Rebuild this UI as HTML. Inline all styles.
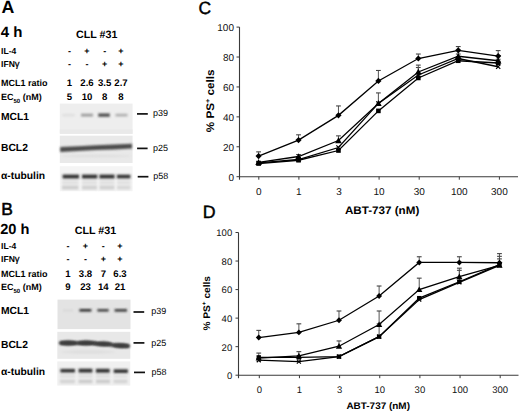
<!DOCTYPE html>
<html><head><meta charset="utf-8"><style>
html,body{margin:0;padding:0;background:#fff;}
body{width:520px;height:411px;overflow:hidden;}
svg{display:block;font-family:"Liberation Sans", sans-serif;text-rendering:geometricPrecision;}
</style></head><body>
<svg width="520" height="411" viewBox="0 0 520 411">
<defs>
<filter id="bl" filterUnits="userSpaceOnUse" x="0" y="0" width="520" height="411"><feGaussianBlur stdDeviation="0.7"/></filter>
<filter id="b1" filterUnits="userSpaceOnUse" x="0" y="0" width="520" height="411"><feGaussianBlur stdDeviation="0.8"/></filter>
<filter id="b0" filterUnits="userSpaceOnUse" x="0" y="0" width="520" height="411"><feGaussianBlur stdDeviation="0.5"/></filter>
<filter id="b2" filterUnits="userSpaceOnUse" x="0" y="0" width="520" height="411"><feGaussianBlur stdDeviation="1.5"/></filter>
</defs>
<rect width="520" height="411" fill="#fff"/>
<text x="1.60" y="12.70" font-size="17.8" font-weight="bold" text-anchor="start" fill="#000" >A</text>
<text x="0.80" y="36.60" font-size="15" font-weight="bold" text-anchor="start" fill="#000" >4 h</text>
<text x="1.20" y="214.90" font-size="17.4" font-weight="normal" text-anchor="start" fill="#000" stroke="#000" stroke-width="0.55">B</text>
<text x="0.20" y="234.00" font-size="14.6" font-weight="bold" text-anchor="start" fill="#000" >20 h</text>
<text x="198.40" y="14.30" font-size="17.5" font-weight="normal" text-anchor="start" fill="#000" stroke="#000" stroke-width="0.45">C</text>
<text x="202.70" y="217.50" font-size="17.8" font-weight="normal" text-anchor="start" fill="#000" stroke="#000" stroke-width="0.45">D</text>
<text x="76.00" y="38.20" font-size="10.7" font-weight="bold" text-anchor="start" fill="#000" >CLL #31</text>
<text x="1.00" y="53.90" font-size="8.6" font-weight="bold" text-anchor="start" fill="#000" >IL-4</text>
<text x="1" y="67.30" font-size="8.6" font-weight="bold">IFN<tspan font-weight="normal" font-size="9.6" stroke="#000" stroke-width="0.25">&#947;</tspan></text>
<text x="1.00" y="85.60" font-size="9" font-weight="bold" text-anchor="start" fill="#000" >MCL1 ratio</text>
<text x="1" y="100.20" font-size="9" font-weight="bold">EC<tspan font-size="6" dy="2.6">50</tspan><tspan dy="-2.6"> (nM)</tspan></text>
<text x="69.50" y="53.90" font-size="9" font-weight="bold" text-anchor="middle" fill="#000" >-</text>
<text x="69.50" y="67.30" font-size="9" font-weight="bold" text-anchor="middle" fill="#000" >-</text>
<text x="69.50" y="85.60" font-size="9.6" font-weight="bold" text-anchor="middle" fill="#000" >1</text>
<text x="69.50" y="100.20" font-size="9.6" font-weight="bold" text-anchor="middle" fill="#000" >5</text>
<text x="87.00" y="53.90" font-size="9" font-weight="bold" text-anchor="middle" fill="#000" >+</text>
<text x="87.00" y="67.30" font-size="9" font-weight="bold" text-anchor="middle" fill="#000" >-</text>
<text x="87.00" y="85.60" font-size="9.6" font-weight="bold" text-anchor="middle" fill="#000" >2.6</text>
<text x="87.00" y="100.20" font-size="9.6" font-weight="bold" text-anchor="middle" fill="#000" >10</text>
<text x="104.70" y="53.90" font-size="9" font-weight="bold" text-anchor="middle" fill="#000" >-</text>
<text x="104.70" y="67.30" font-size="9" font-weight="bold" text-anchor="middle" fill="#000" >+</text>
<text x="104.70" y="85.60" font-size="9.6" font-weight="bold" text-anchor="middle" fill="#000" >3.5</text>
<text x="104.70" y="100.20" font-size="9.6" font-weight="bold" text-anchor="middle" fill="#000" >8</text>
<text x="121.00" y="53.90" font-size="9" font-weight="bold" text-anchor="middle" fill="#000" >+</text>
<text x="121.00" y="67.30" font-size="9" font-weight="bold" text-anchor="middle" fill="#000" >+</text>
<text x="121.00" y="85.60" font-size="9.6" font-weight="bold" text-anchor="middle" fill="#000" >2.7</text>
<text x="121.00" y="100.20" font-size="9.6" font-weight="bold" text-anchor="middle" fill="#000" >8</text>
<text x="74.80" y="234.30" font-size="10.7" font-weight="bold" text-anchor="start" fill="#000" >CLL #31</text>
<text x="1.00" y="249.30" font-size="8.6" font-weight="bold" text-anchor="start" fill="#000" >IL-4</text>
<text x="1" y="262.30" font-size="8.6" font-weight="bold">IFN<tspan font-weight="normal" font-size="9.6" stroke="#000" stroke-width="0.25">&#947;</tspan></text>
<text x="1.00" y="277.30" font-size="9" font-weight="bold" text-anchor="start" fill="#000" >MCL1 ratio</text>
<text x="1" y="290.40" font-size="9" font-weight="bold">EC<tspan font-size="6" dy="2.6">50</tspan><tspan dy="-2.6"> (nM)</tspan></text>
<text x="68.00" y="249.30" font-size="9" font-weight="bold" text-anchor="middle" fill="#000" >-</text>
<text x="68.00" y="262.30" font-size="9" font-weight="bold" text-anchor="middle" fill="#000" >-</text>
<text x="68.00" y="277.30" font-size="9.6" font-weight="bold" text-anchor="middle" fill="#000" >1</text>
<text x="68.00" y="290.40" font-size="9.6" font-weight="bold" text-anchor="middle" fill="#000" >9</text>
<text x="85.50" y="249.30" font-size="9" font-weight="bold" text-anchor="middle" fill="#000" >+</text>
<text x="85.50" y="262.30" font-size="9" font-weight="bold" text-anchor="middle" fill="#000" >-</text>
<text x="85.50" y="277.30" font-size="9.6" font-weight="bold" text-anchor="middle" fill="#000" >3.8</text>
<text x="85.50" y="290.40" font-size="9.6" font-weight="bold" text-anchor="middle" fill="#000" >23</text>
<text x="103.30" y="249.30" font-size="9" font-weight="bold" text-anchor="middle" fill="#000" >-</text>
<text x="103.30" y="262.30" font-size="9" font-weight="bold" text-anchor="middle" fill="#000" >+</text>
<text x="103.30" y="277.30" font-size="9.6" font-weight="bold" text-anchor="middle" fill="#000" >7</text>
<text x="103.30" y="290.40" font-size="9.6" font-weight="bold" text-anchor="middle" fill="#000" >14</text>
<text x="120.00" y="249.30" font-size="9" font-weight="bold" text-anchor="middle" fill="#000" >+</text>
<text x="120.00" y="262.30" font-size="9" font-weight="bold" text-anchor="middle" fill="#000" >+</text>
<text x="120.00" y="277.30" font-size="9.6" font-weight="bold" text-anchor="middle" fill="#000" >6.3</text>
<text x="120.00" y="290.40" font-size="9.6" font-weight="bold" text-anchor="middle" fill="#000" >21</text>
<text x="1.00" y="120.10" font-size="10.3" font-weight="bold" text-anchor="start" fill="#000" >MCL1</text>
<rect x="137.0" y="113.05" width="10.800000000000011" height="1.7" fill="#111"/>
<text x="152.9" y="115.6" font-size="9" textLength="15" lengthAdjust="spacingAndGlyphs">p39</text>
<text x="1.00" y="151.30" font-size="10.3" font-weight="bold" text-anchor="start" fill="#000" >BCL2</text>
<rect x="137.1" y="147.55" width="10.5" height="1.7" fill="#111"/>
<text x="153.0" y="151.0" font-size="9" textLength="15" lengthAdjust="spacingAndGlyphs">p25</text>
<text x="1.00" y="178.80" font-size="10.3" font-weight="bold" text-anchor="start" fill="#000" >&#945;-tubulin</text>
<rect x="137.7" y="175.85" width="10.700000000000017" height="1.7" fill="#111"/>
<text x="153.2" y="179.0" font-size="9" textLength="15" lengthAdjust="spacingAndGlyphs">p58</text>
<text x="1.00" y="313.70" font-size="10.3" font-weight="bold" text-anchor="start" fill="#000" >MCL1</text>
<rect x="133.5" y="311.15" width="10.699999999999989" height="1.7" fill="#111"/>
<text x="151.2" y="313.8" font-size="9" textLength="15" lengthAdjust="spacingAndGlyphs">p39</text>
<text x="1.00" y="347.70" font-size="10.3" font-weight="bold" text-anchor="start" fill="#000" >BCL2</text>
<rect x="133.5" y="342.05" width="10.900000000000006" height="1.7" fill="#111"/>
<text x="151.2" y="345.5" font-size="9" textLength="15" lengthAdjust="spacingAndGlyphs">p25</text>
<text x="1.00" y="375.30" font-size="10.3" font-weight="bold" text-anchor="start" fill="#000" >&#945;-tubulin</text>
<rect x="134.0" y="371.55" width="11.0" height="1.7" fill="#111"/>
<text x="151.4" y="374.5" font-size="9" textLength="15" lengthAdjust="spacingAndGlyphs">p58</text>
<rect x="59.8" y="103.6" width="72.8" height="30.2" fill="#eeeeee"/>
<rect x="59.8" y="129.5" width="72.8" height="4.3" fill="#e9e9e9" fill-opacity="1" filter="url(#b0)"/>
<rect x="62.4" y="114.0" width="12.2" height="2.4" fill="#d4d4d4" fill-opacity="0.6" filter="url(#b1)"/>
<rect x="81.0" y="113.7" width="12.0" height="2.8" fill="#959595" fill-opacity="0.9" filter="url(#b1)"/>
<rect x="98.3" y="113.4" width="11.5" height="3.4" fill="#4a4a4a" fill-opacity="0.95" filter="url(#b1)"/>
<rect x="115.5" y="113.8" width="12.0" height="2.6" fill="#a5a5a5" fill-opacity="0.9" filter="url(#b1)"/>
<rect x="59.8" y="135.7" width="72.8" height="27.3" fill="#e9e9e9"/>
<polygon points="60.2,147.0 78,146.2 96,145.2 114,144.6 132,143.8 132,148.6 114,149.4 96,150.0 78,151.0 60.2,152.0" fill="#4c4c4c" fill-opacity="1" filter="url(#b1)"/>
<ellipse cx="96" cy="156.0" rx="35.0" ry="1.2" fill="#d8d8d8" fill-opacity="0.7" filter="url(#b1)"/>
<rect x="59.8" y="166.2" width="72.8" height="25" fill="#f4f4f4"/>
<rect x="62" y="180.5" width="16.5" height="4" fill="#dcdcdc" fill-opacity="0.8" filter="url(#b1)"/>
<rect x="82" y="180.5" width="15" height="4" fill="#dcdcdc" fill-opacity="0.8" filter="url(#b1)"/>
<rect x="99.5" y="180.5" width="15" height="4" fill="#dcdcdc" fill-opacity="0.8" filter="url(#b1)"/>
<rect x="117" y="180.5" width="13.5" height="4" fill="#dcdcdc" fill-opacity="0.8" filter="url(#b1)"/>
<rect x="62" y="185.5" width="16.5" height="4" fill="#c4c4c4" fill-opacity="0.8" filter="url(#b1)"/>
<rect x="82" y="185.5" width="15" height="4" fill="#c8c8c8" fill-opacity="0.8" filter="url(#b1)"/>
<rect x="99.5" y="185.5" width="15" height="4" fill="#c8c8c8" fill-opacity="0.8" filter="url(#b1)"/>
<rect x="117" y="185.5" width="13.5" height="4" fill="#d0d0d0" fill-opacity="0.8" filter="url(#b1)"/>
<rect x="62.6" y="174.6" width="16.5" height="3.9" fill="#333" fill-opacity="1" filter="url(#b1)"/>
<rect x="82.0" y="174.6" width="15.3" height="3.9" fill="#333" fill-opacity="1" filter="url(#b1)"/>
<rect x="99.4" y="174.6" width="15.2" height="3.9" fill="#333" fill-opacity="1" filter="url(#b1)"/>
<rect x="116.9" y="174.7" width="13.5" height="3.7" fill="#333" fill-opacity="1" filter="url(#b1)"/>
<rect x="57.5" y="299.6" width="73.0" height="29.5" fill="#e3e3e3"/>
<rect x="63" y="309.6" width="10" height="1.6" fill="#cccccc" fill-opacity="0.6" filter="url(#b1)"/>
<rect x="79.4" y="309.0" width="12.0" height="2.6" fill="#2e2e2e" fill-opacity="1" filter="url(#b1)"/>
<rect x="97.4" y="309.1" width="11.2" height="2.4" fill="#333" fill-opacity="1" filter="url(#b1)"/>
<rect x="114.6" y="309.1" width="12.4" height="2.5" fill="#303030" fill-opacity="1" filter="url(#b1)"/>
<rect x="57.3" y="331.8" width="73.0" height="27.0" fill="#e8e8e8"/>
<line x1="61" y1="343.0" x2="95" y2="343.2" stroke="#3c3c3c" stroke-opacity="1" stroke-width="3.4" stroke-linecap="round" filter="url(#b1)"/>
<line x1="95" y1="343.4" x2="128" y2="346.2" stroke="#3c3c3c" stroke-opacity="1" stroke-width="3.4" stroke-linecap="round" filter="url(#b1)"/>
<ellipse cx="68.2" cy="343.0" rx="9.0" ry="2.4" fill="#3c3c3c" fill-opacity="1" filter="url(#b1)"/>
<ellipse cx="86.0" cy="342.9" rx="8.75" ry="2.4" fill="#3c3c3c" fill-opacity="1" filter="url(#b1)"/>
<ellipse cx="103.5" cy="343.9" rx="8.75" ry="2.3" fill="#3c3c3c" fill-opacity="1" filter="url(#b1)"/>
<ellipse cx="121.0" cy="345.6" rx="8.75" ry="2.4" fill="#3c3c3c" fill-opacity="1" filter="url(#b1)"/>
<ellipse cx="88" cy="352" rx="28.0" ry="1.5" fill="#d8d8d8" fill-opacity="0.7" filter="url(#b1)"/>
<rect x="57.3" y="361.4" width="73.0" height="24.2" fill="#f0f0f0"/>
<rect x="60" y="374.8" width="15" height="2.6" fill="#dadada" fill-opacity="0.8" filter="url(#b1)"/>
<rect x="78.5" y="374.8" width="14" height="2.6" fill="#d6d6d6" fill-opacity="0.8" filter="url(#b1)"/>
<rect x="96" y="374.8" width="14" height="2.6" fill="#d6d6d6" fill-opacity="0.8" filter="url(#b1)"/>
<rect x="113.5" y="374.8" width="14" height="2.6" fill="#dadada" fill-opacity="0.8" filter="url(#b1)"/>
<rect x="60" y="379.6" width="15" height="3.6" fill="#cccccc" fill-opacity="0.8" filter="url(#b1)"/>
<rect x="78.5" y="379.6" width="14" height="3.6" fill="#c2c2c2" fill-opacity="0.8" filter="url(#b1)"/>
<rect x="96" y="379.6" width="14" height="3.6" fill="#c2c2c2" fill-opacity="0.8" filter="url(#b1)"/>
<rect x="113.5" y="379.6" width="14" height="3.6" fill="#cccccc" fill-opacity="0.8" filter="url(#b1)"/>
<rect x="60.4" y="368.9" width="14.6" height="3.6" fill="#333" fill-opacity="1" filter="url(#b1)"/>
<rect x="78.6" y="368.7" width="13.8" height="3.9" fill="#333" fill-opacity="1" filter="url(#b1)"/>
<rect x="95.9" y="368.8" width="13.8" height="3.9" fill="#333" fill-opacity="1" filter="url(#b1)"/>
<rect x="113.7" y="369.3" width="14.2" height="3.7" fill="#333" fill-opacity="1" filter="url(#b1)"/>
<line x1="239.5" y1="27.10" x2="239.5" y2="179.7" stroke="#3a3a3a" stroke-width="1.1"/>
<line x1="239.5" y1="176.7" x2="518" y2="176.7" stroke="#3a3a3a" stroke-width="1.1"/>
<line x1="236.5" y1="176.70" x2="239.5" y2="176.70" stroke="#3a3a3a" stroke-width="1"/>
<text x="234.00" y="180.85" font-size="10" font-weight="normal" text-anchor="end" fill="#111" >0</text>
<line x1="236.5" y1="146.78" x2="239.5" y2="146.78" stroke="#3a3a3a" stroke-width="1"/>
<text x="234.00" y="150.93" font-size="10" font-weight="normal" text-anchor="end" fill="#111" >20</text>
<line x1="236.5" y1="116.86" x2="239.5" y2="116.86" stroke="#3a3a3a" stroke-width="1"/>
<text x="234.00" y="121.01" font-size="10" font-weight="normal" text-anchor="end" fill="#111" >40</text>
<line x1="236.5" y1="86.94" x2="239.5" y2="86.94" stroke="#3a3a3a" stroke-width="1"/>
<text x="234.00" y="91.09" font-size="10" font-weight="normal" text-anchor="end" fill="#111" >60</text>
<line x1="236.5" y1="57.02" x2="239.5" y2="57.02" stroke="#3a3a3a" stroke-width="1"/>
<text x="234.00" y="61.17" font-size="10" font-weight="normal" text-anchor="end" fill="#111" >80</text>
<line x1="236.5" y1="27.10" x2="239.5" y2="27.10" stroke="#3a3a3a" stroke-width="1"/>
<text x="234.00" y="31.25" font-size="10" font-weight="normal" text-anchor="end" fill="#111" >100</text>
<line x1="258.80" y1="176.7" x2="258.80" y2="179.7" stroke="#3a3a3a" stroke-width="1"/>
<text x="258.80" y="195.40" font-size="10" font-weight="normal" text-anchor="middle" fill="#111" >0</text>
<line x1="298.90" y1="176.7" x2="298.90" y2="179.7" stroke="#3a3a3a" stroke-width="1"/>
<text x="298.90" y="195.40" font-size="10" font-weight="normal" text-anchor="middle" fill="#111" >1</text>
<line x1="339.00" y1="176.7" x2="339.00" y2="179.7" stroke="#3a3a3a" stroke-width="1"/>
<text x="339.00" y="195.40" font-size="10" font-weight="normal" text-anchor="middle" fill="#111" >3</text>
<line x1="379.10" y1="176.7" x2="379.10" y2="179.7" stroke="#3a3a3a" stroke-width="1"/>
<text x="379.10" y="195.40" font-size="10" font-weight="normal" text-anchor="middle" fill="#111" >10</text>
<line x1="419.20" y1="176.7" x2="419.20" y2="179.7" stroke="#3a3a3a" stroke-width="1"/>
<text x="419.20" y="195.40" font-size="10" font-weight="normal" text-anchor="middle" fill="#111" >30</text>
<line x1="459.30" y1="176.7" x2="459.30" y2="179.7" stroke="#3a3a3a" stroke-width="1"/>
<text x="459.30" y="195.40" font-size="10" font-weight="normal" text-anchor="middle" fill="#111" >100</text>
<line x1="499.40" y1="176.7" x2="499.40" y2="179.7" stroke="#3a3a3a" stroke-width="1"/>
<text x="499.40" y="195.40" font-size="10" font-weight="normal" text-anchor="middle" fill="#111" >300</text>
<text x="344.90" y="213.6" font-size="11" font-weight="bold" textLength="74.4" lengthAdjust="spacingAndGlyphs">ABT-737 (nM)</text>
<text x="0" y="0" font-size="11" font-weight="bold" text-anchor="middle" transform="translate(214.4,100.8) rotate(-90) scale(1.064,1)">% PS<tspan font-size="6.8" dy="-4.6">+</tspan><tspan dy="4.6"> cells</tspan></text>
<line x1="258.60" y1="156.06" x2="258.60" y2="151.87" stroke="#555" stroke-width="1"/>
<line x1="256.20" y1="151.87" x2="261.00" y2="151.87" stroke="#444" stroke-width="1.1"/>
<line x1="298.53" y1="140.05" x2="298.53" y2="134.81" stroke="#555" stroke-width="1"/>
<line x1="296.13" y1="134.81" x2="300.93" y2="134.81" stroke="#444" stroke-width="1.1"/>
<line x1="338.46" y1="115.36" x2="338.46" y2="105.94" stroke="#555" stroke-width="1"/>
<line x1="336.06" y1="105.94" x2="340.86" y2="105.94" stroke="#444" stroke-width="1.1"/>
<line x1="378.39" y1="80.96" x2="378.39" y2="70.48" stroke="#555" stroke-width="1"/>
<line x1="375.99" y1="70.48" x2="380.79" y2="70.48" stroke="#444" stroke-width="1.1"/>
<line x1="418.32" y1="58.52" x2="418.32" y2="54.03" stroke="#555" stroke-width="1"/>
<line x1="415.92" y1="54.03" x2="420.72" y2="54.03" stroke="#444" stroke-width="1.1"/>
<line x1="458.25" y1="50.29" x2="458.25" y2="46.55" stroke="#555" stroke-width="1"/>
<line x1="455.85" y1="46.55" x2="460.65" y2="46.55" stroke="#444" stroke-width="1.1"/>
<line x1="498.18" y1="56.12" x2="498.18" y2="50.59" stroke="#555" stroke-width="1"/>
<line x1="495.78" y1="50.59" x2="500.58" y2="50.59" stroke="#444" stroke-width="1.1"/>
<line x1="418.32" y1="77.96" x2="418.32" y2="67.49" stroke="#555" stroke-width="1"/>
<line x1="415.92" y1="67.49" x2="420.72" y2="67.49" stroke="#444" stroke-width="1.1"/>
<line x1="498.18" y1="63.00" x2="498.18" y2="59.26" stroke="#555" stroke-width="1"/>
<line x1="495.78" y1="59.26" x2="500.58" y2="59.26" stroke="#444" stroke-width="1.1"/>
<line x1="298.53" y1="156.50" x2="298.53" y2="154.56" stroke="#555" stroke-width="1"/>
<line x1="296.13" y1="154.56" x2="300.93" y2="154.56" stroke="#444" stroke-width="1.1"/>
<line x1="338.46" y1="140.50" x2="338.46" y2="135.86" stroke="#555" stroke-width="1"/>
<line x1="336.06" y1="135.86" x2="340.86" y2="135.86" stroke="#444" stroke-width="1.1"/>
<line x1="378.39" y1="103.40" x2="378.39" y2="92.92" stroke="#555" stroke-width="1"/>
<line x1="375.99" y1="92.92" x2="380.79" y2="92.92" stroke="#444" stroke-width="1.1"/>
<line x1="418.32" y1="71.98" x2="418.32" y2="65.10" stroke="#555" stroke-width="1"/>
<line x1="415.92" y1="65.10" x2="420.72" y2="65.10" stroke="#444" stroke-width="1.1"/>
<line x1="458.25" y1="56.27" x2="458.25" y2="54.03" stroke="#555" stroke-width="1"/>
<line x1="455.85" y1="54.03" x2="460.65" y2="54.03" stroke="#444" stroke-width="1.1"/>
<line x1="498.18" y1="60.76" x2="498.18" y2="55.52" stroke="#555" stroke-width="1"/>
<line x1="495.78" y1="55.52" x2="500.58" y2="55.52" stroke="#444" stroke-width="1.1"/>
<polyline points="258.60,156.06 298.53,140.05 338.46,115.36 378.39,80.96 418.32,58.52 458.25,50.29 498.18,56.12" fill="none" stroke="#000" stroke-width="1.3"/>
<polyline points="258.60,163.54 298.53,160.24 338.46,150.52 378.39,110.88 418.32,77.96 458.25,60.76 498.18,63.00" fill="none" stroke="#000" stroke-width="1.3"/>
<polyline points="258.60,162.34 298.53,156.50 338.46,140.50 378.39,103.40 418.32,71.98 458.25,56.27 498.18,60.76" fill="none" stroke="#000" stroke-width="1.3"/>
<polyline points="258.60,162.94 298.53,159.50 338.46,147.53 378.39,103.40 418.32,74.97 458.25,58.52 498.18,66.74" fill="none" stroke="#000" stroke-width="1.3"/>
<path d="M258.60,152.96L261.70,156.06L258.60,159.16L255.50,156.06Z" fill="#000"/>
<path d="M298.53,136.95L301.63,140.05L298.53,143.15L295.43,140.05Z" fill="#000"/>
<path d="M338.46,112.26L341.56,115.36L338.46,118.46L335.36,115.36Z" fill="#000"/>
<path d="M378.39,77.86L381.49,80.96L378.39,84.06L375.29,80.96Z" fill="#000"/>
<path d="M418.32,55.42L421.42,58.52L418.32,61.62L415.22,58.52Z" fill="#000"/>
<path d="M458.25,47.19L461.35,50.29L458.25,53.39L455.15,50.29Z" fill="#000"/>
<path d="M498.18,53.02L501.28,56.12L498.18,59.22L495.08,56.12Z" fill="#000"/>
<rect x="256.30" y="161.24" width="4.60" height="4.60" fill="#000"/>
<rect x="296.23" y="157.94" width="4.60" height="4.60" fill="#000"/>
<rect x="336.16" y="148.22" width="4.60" height="4.60" fill="#000"/>
<rect x="376.09" y="108.58" width="4.60" height="4.60" fill="#000"/>
<rect x="416.02" y="75.66" width="4.60" height="4.60" fill="#000"/>
<rect x="455.95" y="58.46" width="4.60" height="4.60" fill="#000"/>
<rect x="495.88" y="60.70" width="4.60" height="4.60" fill="#000"/>
<path d="M258.60,159.04L261.90,164.98L255.30,164.98Z" fill="#000"/>
<path d="M298.53,153.20L301.83,159.14L295.23,159.14Z" fill="#000"/>
<path d="M338.46,137.20L341.76,143.14L335.16,143.14Z" fill="#000"/>
<path d="M378.39,100.10L381.69,106.04L375.09,106.04Z" fill="#000"/>
<path d="M418.32,68.68L421.62,74.62L415.02,74.62Z" fill="#000"/>
<path d="M458.25,52.97L461.55,58.91L454.95,58.91Z" fill="#000"/>
<path d="M498.18,57.46L501.48,63.40L494.88,63.40Z" fill="#000"/>
<path d="M256.50,160.84L260.70,165.04M260.70,160.84L256.50,165.04" stroke="#000" stroke-width="1.2"/>
<path d="M296.43,157.40L300.63,161.60M300.63,157.40L296.43,161.60" stroke="#000" stroke-width="1.2"/>
<path d="M336.36,145.43L340.56,149.63M340.56,145.43L336.36,149.63" stroke="#000" stroke-width="1.2"/>
<path d="M376.29,101.30L380.49,105.50M380.49,101.30L376.29,105.50" stroke="#000" stroke-width="1.2"/>
<path d="M416.22,72.87L420.42,77.07M420.42,72.87L416.22,77.07" stroke="#000" stroke-width="1.2"/>
<path d="M456.15,56.42L460.35,60.62M460.35,56.42L456.15,60.62" stroke="#000" stroke-width="1.2"/>
<path d="M496.08,64.64L500.28,68.84M500.28,64.64L496.08,68.84" stroke="#000" stroke-width="1.2"/>
<line x1="238.5" y1="232.50" x2="238.5" y2="378.2" stroke="#3a3a3a" stroke-width="1.1"/>
<line x1="238.5" y1="375.2" x2="518.5" y2="375.2" stroke="#3a3a3a" stroke-width="1.1"/>
<line x1="235.5" y1="375.20" x2="238.5" y2="375.20" stroke="#3a3a3a" stroke-width="1"/>
<text x="232.20" y="379.07" font-size="9.5" font-weight="normal" text-anchor="end" fill="#111" >0</text>
<line x1="235.5" y1="346.66" x2="238.5" y2="346.66" stroke="#3a3a3a" stroke-width="1"/>
<text x="232.20" y="350.53" font-size="9.5" font-weight="normal" text-anchor="end" fill="#111" >20</text>
<line x1="235.5" y1="318.12" x2="238.5" y2="318.12" stroke="#3a3a3a" stroke-width="1"/>
<text x="232.20" y="321.99" font-size="9.5" font-weight="normal" text-anchor="end" fill="#111" >40</text>
<line x1="235.5" y1="289.58" x2="238.5" y2="289.58" stroke="#3a3a3a" stroke-width="1"/>
<text x="232.20" y="293.45" font-size="9.5" font-weight="normal" text-anchor="end" fill="#111" >60</text>
<line x1="235.5" y1="261.04" x2="238.5" y2="261.04" stroke="#3a3a3a" stroke-width="1"/>
<text x="232.20" y="264.91" font-size="9.5" font-weight="normal" text-anchor="end" fill="#111" >80</text>
<line x1="235.5" y1="232.50" x2="238.5" y2="232.50" stroke="#3a3a3a" stroke-width="1"/>
<text x="232.20" y="236.37" font-size="9.5" font-weight="normal" text-anchor="end" fill="#111" >100</text>
<line x1="259.30" y1="375.2" x2="259.30" y2="378.2" stroke="#3a3a3a" stroke-width="1"/>
<text x="259.30" y="392.60" font-size="9.5" font-weight="normal" text-anchor="middle" fill="#111" >0</text>
<line x1="299.45" y1="375.2" x2="299.45" y2="378.2" stroke="#3a3a3a" stroke-width="1"/>
<text x="299.45" y="392.60" font-size="9.5" font-weight="normal" text-anchor="middle" fill="#111" >1</text>
<line x1="339.60" y1="375.2" x2="339.60" y2="378.2" stroke="#3a3a3a" stroke-width="1"/>
<text x="339.60" y="392.60" font-size="9.5" font-weight="normal" text-anchor="middle" fill="#111" >3</text>
<line x1="379.75" y1="375.2" x2="379.75" y2="378.2" stroke="#3a3a3a" stroke-width="1"/>
<text x="379.75" y="392.60" font-size="9.5" font-weight="normal" text-anchor="middle" fill="#111" >10</text>
<line x1="419.90" y1="375.2" x2="419.90" y2="378.2" stroke="#3a3a3a" stroke-width="1"/>
<text x="419.90" y="392.60" font-size="9.5" font-weight="normal" text-anchor="middle" fill="#111" >30</text>
<line x1="460.05" y1="375.2" x2="460.05" y2="378.2" stroke="#3a3a3a" stroke-width="1"/>
<text x="460.05" y="392.60" font-size="9.5" font-weight="normal" text-anchor="middle" fill="#111" >100</text>
<line x1="500.20" y1="375.2" x2="500.20" y2="378.2" stroke="#3a3a3a" stroke-width="1"/>
<text x="500.20" y="392.60" font-size="9.5" font-weight="normal" text-anchor="middle" fill="#111" >300</text>
<text x="346.45" y="408.5" font-size="9.6" font-weight="bold" textLength="63.5" lengthAdjust="spacingAndGlyphs">ABT-737 (nM)</text>
<text x="0" y="0" font-size="9.6" font-weight="bold" text-anchor="middle" transform="translate(210.0,303.3) rotate(-90) scale(1.06,1)">% PS<tspan font-size="6.0" dy="-4.0">+</tspan><tspan dy="4.0"> cells</tspan></text>
<line x1="258.75" y1="337.53" x2="258.75" y2="330.39" stroke="#555" stroke-width="1"/>
<line x1="256.35" y1="330.39" x2="261.15" y2="330.39" stroke="#444" stroke-width="1.1"/>
<line x1="298.87" y1="332.39" x2="298.87" y2="323.83" stroke="#555" stroke-width="1"/>
<line x1="296.47" y1="323.83" x2="301.27" y2="323.83" stroke="#444" stroke-width="1.1"/>
<line x1="338.99" y1="320.26" x2="338.99" y2="310.99" stroke="#555" stroke-width="1"/>
<line x1="336.59" y1="310.99" x2="341.39" y2="310.99" stroke="#444" stroke-width="1.1"/>
<line x1="379.11" y1="296.00" x2="379.11" y2="286.01" stroke="#555" stroke-width="1"/>
<line x1="376.71" y1="286.01" x2="381.51" y2="286.01" stroke="#444" stroke-width="1.1"/>
<line x1="419.23" y1="262.47" x2="419.23" y2="256.76" stroke="#555" stroke-width="1"/>
<line x1="416.83" y1="256.76" x2="421.63" y2="256.76" stroke="#444" stroke-width="1.1"/>
<line x1="459.35" y1="262.47" x2="459.35" y2="256.76" stroke="#555" stroke-width="1"/>
<line x1="456.95" y1="256.76" x2="461.75" y2="256.76" stroke="#444" stroke-width="1.1"/>
<line x1="499.47" y1="262.75" x2="499.47" y2="253.62" stroke="#555" stroke-width="1"/>
<line x1="497.07" y1="253.62" x2="501.87" y2="253.62" stroke="#444" stroke-width="1.1"/>
<line x1="379.11" y1="336.67" x2="379.11" y2="323.83" stroke="#555" stroke-width="1"/>
<line x1="376.71" y1="323.83" x2="381.51" y2="323.83" stroke="#444" stroke-width="1.1"/>
<line x1="499.47" y1="264.61" x2="499.47" y2="256.33" stroke="#555" stroke-width="1"/>
<line x1="497.07" y1="256.33" x2="501.87" y2="256.33" stroke="#444" stroke-width="1.1"/>
<line x1="258.75" y1="358.08" x2="258.75" y2="353.08" stroke="#555" stroke-width="1"/>
<line x1="256.35" y1="353.08" x2="261.15" y2="353.08" stroke="#444" stroke-width="1.1"/>
<line x1="298.87" y1="355.94" x2="298.87" y2="351.65" stroke="#555" stroke-width="1"/>
<line x1="296.47" y1="351.65" x2="301.27" y2="351.65" stroke="#444" stroke-width="1.1"/>
<line x1="338.99" y1="346.23" x2="338.99" y2="340.95" stroke="#555" stroke-width="1"/>
<line x1="336.59" y1="340.95" x2="341.39" y2="340.95" stroke="#444" stroke-width="1.1"/>
<line x1="379.11" y1="324.54" x2="379.11" y2="310.99" stroke="#555" stroke-width="1"/>
<line x1="376.71" y1="310.99" x2="381.51" y2="310.99" stroke="#444" stroke-width="1.1"/>
<line x1="419.23" y1="289.58" x2="419.23" y2="278.16" stroke="#555" stroke-width="1"/>
<line x1="416.83" y1="278.16" x2="421.63" y2="278.16" stroke="#444" stroke-width="1.1"/>
<line x1="459.35" y1="276.74" x2="459.35" y2="268.17" stroke="#555" stroke-width="1"/>
<line x1="456.95" y1="268.17" x2="461.75" y2="268.17" stroke="#444" stroke-width="1.1"/>
<line x1="499.47" y1="265.32" x2="499.47" y2="258.90" stroke="#555" stroke-width="1"/>
<line x1="497.07" y1="258.90" x2="501.87" y2="258.90" stroke="#444" stroke-width="1.1"/>
<line x1="459.35" y1="282.44" x2="459.35" y2="270.32" stroke="#555" stroke-width="1"/>
<line x1="456.95" y1="270.32" x2="461.75" y2="270.32" stroke="#444" stroke-width="1.1"/>
<polyline points="258.75,337.53 298.87,332.39 338.99,320.26 379.11,296.00 419.23,262.47 459.35,262.47 499.47,262.75" fill="none" stroke="#000" stroke-width="1.3"/>
<polyline points="258.75,357.36 298.87,357.36 338.99,356.65 379.11,336.67 419.23,298.14 459.35,281.73 499.47,264.61" fill="none" stroke="#000" stroke-width="1.3"/>
<polyline points="258.75,358.08 298.87,355.94 338.99,346.23 379.11,324.54 419.23,289.58 459.35,276.74 499.47,265.32" fill="none" stroke="#000" stroke-width="1.3"/>
<polyline points="258.75,360.22 298.87,361.64 338.99,356.65 379.11,336.67 419.23,299.57 459.35,282.44 499.47,265.32" fill="none" stroke="#000" stroke-width="1.3"/>
<path d="M258.75,334.58L261.69,337.53L258.75,340.47L255.81,337.53Z" fill="#000"/>
<path d="M298.87,329.44L301.81,332.39L298.87,335.33L295.93,332.39Z" fill="#000"/>
<path d="M338.99,317.32L341.94,320.26L338.99,323.21L336.05,320.26Z" fill="#000"/>
<path d="M379.11,293.06L382.06,296.00L379.11,298.95L376.17,296.00Z" fill="#000"/>
<path d="M419.23,259.52L422.18,262.47L419.23,265.41L416.29,262.47Z" fill="#000"/>
<path d="M459.35,259.52L462.30,262.47L459.35,265.41L456.41,262.47Z" fill="#000"/>
<path d="M499.47,259.81L502.41,262.75L499.47,265.70L496.52,262.75Z" fill="#000"/>
<rect x="256.56" y="355.18" width="4.37" height="4.37" fill="#000"/>
<rect x="296.69" y="355.18" width="4.37" height="4.37" fill="#000"/>
<rect x="336.81" y="354.46" width="4.37" height="4.37" fill="#000"/>
<rect x="376.93" y="334.49" width="4.37" height="4.37" fill="#000"/>
<rect x="417.05" y="295.96" width="4.37" height="4.37" fill="#000"/>
<rect x="457.17" y="279.55" width="4.37" height="4.37" fill="#000"/>
<rect x="497.28" y="262.42" width="4.37" height="4.37" fill="#000"/>
<path d="M258.75,354.94L261.88,360.58L255.62,360.58Z" fill="#000"/>
<path d="M298.87,352.80L302.00,358.44L295.74,358.44Z" fill="#000"/>
<path d="M338.99,343.10L342.12,348.74L335.86,348.74Z" fill="#000"/>
<path d="M379.11,321.41L382.25,327.05L375.98,327.05Z" fill="#000"/>
<path d="M419.23,286.44L422.37,292.09L416.10,292.09Z" fill="#000"/>
<path d="M459.35,273.60L462.49,279.24L456.22,279.24Z" fill="#000"/>
<path d="M499.47,262.19L502.60,267.83L496.33,267.83Z" fill="#000"/>
<path d="M256.75,358.22L260.75,362.21M260.75,358.22L256.75,362.21" stroke="#000" stroke-width="1.2"/>
<path d="M296.88,359.65L300.87,363.64M300.87,359.65L296.88,363.64" stroke="#000" stroke-width="1.2"/>
<path d="M337.00,354.65L340.99,358.64M340.99,354.65L337.00,358.64" stroke="#000" stroke-width="1.2"/>
<path d="M377.12,334.68L381.11,338.67M381.11,334.68L377.12,338.67" stroke="#000" stroke-width="1.2"/>
<path d="M417.24,297.57L421.23,301.56M421.23,297.57L417.24,301.56" stroke="#000" stroke-width="1.2"/>
<path d="M457.36,280.45L461.35,284.44M461.35,280.45L457.36,284.44" stroke="#000" stroke-width="1.2"/>
<path d="M497.47,263.33L501.46,267.32M501.46,263.33L497.47,267.32" stroke="#000" stroke-width="1.2"/>
</svg>
</body></html>
